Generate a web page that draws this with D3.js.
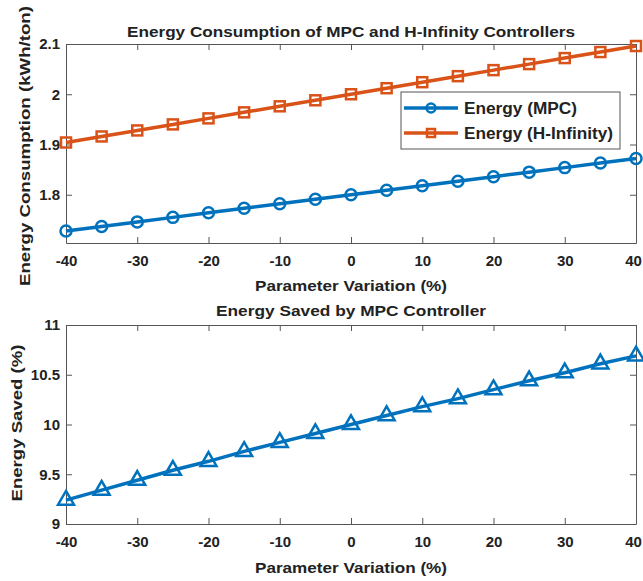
<!DOCTYPE html>
<html>
<head>
<meta charset="utf-8">
<script src="https://cdn.jsdelivr.net/npm/d3@7"></script>
<style>
  body { margin: 0; background: #fff; }
  text { font-family: "Liberation Sans", Arial, sans-serif; font-weight: bold; fill: #222; }
  .tick line { stroke: #555; }
  .domain { stroke: #555; }
</style>
</head>
<body>
<div id="chart"></div>
<script>
// Parameter variation (%)
var variation = [-40, -35, -30, -25, -20, -15, -10, -5, 0, 5, 10, 15, 20, 25, 30, 35, 40];

// Energy consumption (kWh/ton)
var energyMPC = [1.728, 1.737, 1.746, 1.755, 1.764, 1.773, 1.782, 1.791, 1.800, 1.809, 1.818, 1.827, 1.836, 1.845, 1.854, 1.863, 1.872];
var energyHinf = [1.904, 1.916, 1.928, 1.940, 1.952, 1.964, 1.976, 1.988, 2.000, 2.012, 2.024, 2.036, 2.048, 2.060, 2.072, 2.084, 2.096];

// Energy saved (%)
var energySaved = [9.24, 9.34, 9.44, 9.54, 9.63, 9.73, 9.82, 9.91, 10.00, 10.09, 10.18, 10.26, 10.35, 10.44, 10.52, 10.61, 10.69];

var xTicks = [-40, -30, -20, -10, 0, 10, 20, 30, 40];
var topYTicks = [1.8, 1.9, 2.0, 2.1];
var bottomYTicks = [9, 9.5, 10, 10.5, 11];

var blue = "#0072BD";
var orange = "#D95319";

var svgWidth = 643;
var svgHeight = 581;

var svg = d3.select("#chart")
    .append("svg")
    .attr("width", svgWidth)
    .attr("height", svgHeight);

var left = 66, right = 636;

// plain hyphen for negatives, like matlab
var fmt = d => String(+(+d).toFixed(1));

// draw one MATLAB-style axes box, returns scales
function makeAxes(top, bottom, yDomain, yTicks) {
    var x = d3.scaleLinear().domain([-40, 40]).range([left, right]);
    var y = d3.scaleLinear().domain(yDomain).range([bottom, top]);
    var tk = 6;

    svg.append("g")
        .attr("transform", `translate(0, ${bottom})`)
        .call(d3.axisBottom(x).tickValues(xTicks).tickSizeInner(-tk).tickSizeOuter(0).tickPadding(12).tickFormat(fmt))
        .call(g => g.selectAll("text").attr("font-size", 15)
            .attr("dx", d => d === 40 ? -3 : 0));
    svg.append("g")
        .attr("transform", `translate(0, ${top})`)
        .call(d3.axisTop(x).tickValues(xTicks).tickSizeInner(-tk).tickSizeOuter(0).tickFormat(""));
    svg.append("g")
        .attr("transform", `translate(${left}, 0)`)
        .call(d3.axisLeft(y).tickValues(yTicks).tickSizeInner(-tk).tickSizeOuter(0).tickPadding(6).tickFormat(fmt))
        .call(g => g.selectAll("text").attr("font-size", 15));
    svg.append("g")
        .attr("transform", `translate(${right}, 0)`)
        .call(d3.axisRight(y).tickValues(yTicks).tickSizeInner(-tk).tickSizeOuter(0).tickFormat(""));
    return { x: x, y: y };
}

// text helper, stretched to the width seen in the picture
function label(x, y, str, len, rotate) {
    var t = svg.append("text")
        .attr("text-anchor", "middle")
        .attr("font-size", 15)
        .attr("textLength", len)
        .attr("lengthAdjust", "spacingAndGlyphs")
        .text(str);
    if (rotate) {
        t.attr("transform", "rotate(-90)").attr("x", -y).attr("y", x);
    } else {
        t.attr("x", x).attr("y", y);
    }
    return t;
}

// ---------- Top plot ----------
var s1 = makeAxes(44, 243, [1.704, 2.1], topYTicks);

label((left + right) / 2, 37, "Energy Consumption of MPC and H-Infinity Controllers", 448);
label(30, 146, "Energy Consumption (kWh/ton)", 280, true);
label((left + right) / 2, 291, "Parameter Variation (%)", 192);

var line1 = d3.line().x((d, i) => s1.x(variation[i])).y(d => s1.y(d));

svg.append("path")
    .datum(energyMPC)
    .attr("d", line1)
    .attr("fill", "none")
    .attr("stroke", blue)
    .attr("stroke-width", 3.5);

svg.selectAll(".mpc")
    .data(energyMPC)
    .enter()
    .append("circle")
    .attr("cx", (d, i) => s1.x(variation[i]))
    .attr("cy", d => s1.y(d))
    .attr("r", 5.5)
    .attr("fill", "none")
    .attr("stroke", blue)
    .attr("stroke-width", 2.5);

svg.append("path")
    .datum(energyHinf)
    .attr("d", line1)
    .attr("fill", "none")
    .attr("stroke", orange)
    .attr("stroke-width", 3.5);

svg.selectAll(".hinf")
    .data(energyHinf)
    .enter()
    .append("rect")
    .attr("x", (d, i) => s1.x(variation[i]) - 5)
    .attr("y", d => s1.y(d) - 5)
    .attr("width", 10)
    .attr("height", 10)
    .attr("fill", "none")
    .attr("stroke", orange)
    .attr("stroke-width", 2.5);

// Legend
var legend = svg.append("g").attr("transform", "translate(401, 92)");
legend.append("rect")
    .attr("width", 219)
    .attr("height", 57)
    .attr("fill", "#fff")
    .attr("stroke", "#555")
    .attr("stroke-width", 1);

var legendItems = [
    { label: "Energy (MPC)", color: blue, shape: "circle", len: 113 },
    { label: "Energy (H-Infinity)", color: orange, shape: "square", len: 149 }
];
legendItems.forEach((item, i) => {
    var cy = 16 + i * 25;
    legend.append("line")
        .attr("x1", 3).attr("x2", 57)
        .attr("y1", cy).attr("y2", cy)
        .attr("stroke", item.color)
        .attr("stroke-width", 3.5);
    if (item.shape === "circle") {
        legend.append("circle")
            .attr("cx", 30).attr("cy", cy).attr("r", 4.5)
            .attr("fill", "none").attr("stroke", item.color).attr("stroke-width", 2.5);
    } else {
        legend.append("rect")
            .attr("x", 26).attr("y", cy - 4).attr("width", 8).attr("height", 8)
            .attr("fill", "none").attr("stroke", item.color).attr("stroke-width", 2.5);
    }
    legend.append("text")
        .attr("x", 63)
        .attr("y", cy + 6)
        .attr("font-size", 16)
        .attr("textLength", item.len)
        .attr("lengthAdjust", "spacingAndGlyphs")
        .text(item.label);
});

// ---------- Bottom plot ----------
var s2 = makeAxes(325, 524, [9, 11], bottomYTicks);

label((left + right) / 2, 316, "Energy Saved by MPC Controller", 270);
label(22, 423, "Energy Saved (%)", 157, true);
label((left + right) / 2, 573, "Parameter Variation (%)", 192);

var line2 = d3.line().x((d, i) => s2.x(variation[i])).y(d => s2.y(d));

svg.append("path")
    .datum(energySaved)
    .attr("d", line2)
    .attr("fill", "none")
    .attr("stroke", blue)
    .attr("stroke-width", 3.5);

var tri = d3.symbol().type(d3.symbolTriangle).size(110);
svg.selectAll(".saved")
    .data(energySaved)
    .enter()
    .append("path")
    .attr("d", tri)
    .attr("transform", (d, i) => `translate(${s2.x(variation[i])}, ${s2.y(d)})`)
    .attr("fill", "none")
    .attr("stroke", blue)
    .attr("stroke-width", 2.5);
</script>
</body>
</html>
